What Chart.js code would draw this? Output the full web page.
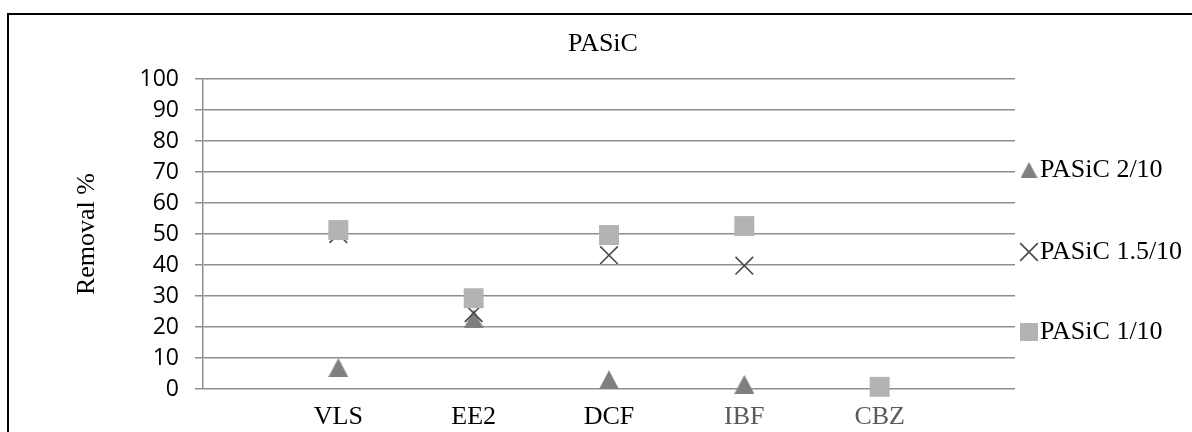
<!DOCTYPE html>
<html>
<head>
<meta charset="utf-8">
<script src="https://cdn.jsdelivr.net/npm/chart.js@4.4.1/dist/chart.umd.min.js"></script>
<style>
  html, body { margin: 0; padding: 0; background: #fff; }
  #wrap { position: relative; width: 1192px; height: 432px; overflow: hidden; }
  #frame { position: absolute; left: 7px; top: 13px; width: 1300px; height: 500px;
           border-left: 2px solid #000; border-top: 2px solid #000; pointer-events: none; }
</style>
</head>
<body>
<div id="wrap">
  <canvas id="c" width="1192" height="432"></canvas>
  <div id="frame"></div>
</div>
<script>
// ---- data ----
const categories = ['VLS', 'EE2', 'DCF', 'IBF', 'CBZ'];
const pasic2_10  = [6.9, 22.6, 3.0, 1.5, null];
const pasic15_10 = [50.0, 24.5, 43.2, 39.8, null];
const pasic1_10  = [51.3, 29.3, 49.7, 52.6, 0.7];
const seriesLabels = ['PASiC 2/10', 'PASiC 1.5/10', 'PASiC 1/10'];
const yMin = 0, yMax = 100, yStep = 10;

// ---- marker images ----
function triangleCanvas(w, h, color) {
  const cv = document.createElement('canvas');
  cv.width = w; cv.height = h;
  const g = cv.getContext('2d');
  g.fillStyle = color;
  g.beginPath();
  g.moveTo(w / 2, 0); g.lineTo(w, h); g.lineTo(0, h); g.closePath();
  g.fill();
  return cv;
}
const TRI_COLOR = '#7f7f7f', SQ_COLOR = '#b3b3b3', X_COLOR = '#4a4a4a';
const triPlot = triangleCanvas(20, 19, TRI_COLOR);
const triLegend = triangleCanvas(17, 16, TRI_COLOR);

const toXY = arr => arr.map((v, i) => ({ x: i + 1, y: v }));

const serif = 'Liberation Serif';
const GRID = '#8e8e8e';
const PAD_LEFT = 14;

const legendPlugin = {
  id: 'sideLegend',
  afterDraw(chart) {
    const ctx = chart.ctx;
    const items = [
      { y: 170, style: triLegend, radius: 9, bw: 0, color: TRI_COLOR },
      { y: 252, style: 'crossRot', radius: 12.5, bw: 1.6, color: X_COLOR },
      { y: 332, style: 'rect', radius: 12.7, bw: 0, color: SQ_COLOR }
    ];
    ctx.save();
    items.forEach((it, i) => {
      ctx.fillStyle = it.color;
      ctx.strokeStyle = it.color;
      ctx.lineWidth = it.bw;
      Chart.helpers.drawPoint(ctx, { pointStyle: it.style, radius: it.radius, borderWidth: it.bw, rotation: 0 }, 1029, it.y);
      ctx.fillStyle = '#000';
      ctx.font = '26px "' + serif + '"';
      ctx.textAlign = 'left';
      ctx.textBaseline = 'middle';
      ctx.fillText(chart.data.datasets[i].label, 1040, it.y);
    });
    ctx.restore();
  }
};

new Chart(document.getElementById('c'), {
  type: 'scatter',
  data: {
    datasets: [
      { label: seriesLabels[0], data: toXY(pasic2_10), pointStyle: triPlot, pointRadius: 10,
        backgroundColor: TRI_COLOR, borderColor: TRI_COLOR, pointBorderWidth: 0, order: 3, clip: false },
      { label: seriesLabels[1], data: toXY(pasic15_10), pointStyle: 'crossRot', pointRadius: 12.5,
        backgroundColor: X_COLOR, borderColor: X_COLOR, pointBorderWidth: 1.6, order: 2, clip: false },
      { label: seriesLabels[2], data: toXY(pasic1_10), pointStyle: 'rect', pointRadius: 14.1,
        backgroundColor: SQ_COLOR, borderColor: SQ_COLOR, pointBorderWidth: 0, order: 1, clip: false }
    ]
  },
  options: {
    responsive: false,
    animation: false,
    events: [],
    layout: { padding: { top: 13, left: PAD_LEFT, right: 0, bottom: 0 } },
    plugins: {
      legend: { display: false },
      tooltip: { enabled: false },
      title: {
        display: true, text: 'PASiC', color: '#000',
        font: { family: serif, size: 26, weight: 'normal' },
        padding: { top: 16, bottom: 19 }
      }
    },
    scales: {
      x: {
        type: 'linear', min: 0, max: categories.length + 1,
        afterBuildTicks: s => { s.ticks = categories.map((_, i) => ({ value: i + 1 })); },
        afterFit: s => { s.height = 43; },
        grid: { display: false, drawTicks: false },
        border: { display: false },
        ticks: {
          autoSkip: false, maxRotation: 0, padding: 13,
          callback: v => categories[v - 1] || '',
          font: { family: serif, size: 26 },
          color: c => (c.index >= 3 ? '#5a5a5a' : '#000')
        }
      },
      y: {
        min: yMin, max: yMax,
        afterFit: s => { s.width = 203 - PAD_LEFT; },
        grid: { color: GRID, lineWidth: 1.5, tickLength: 8, drawTicks: true },
        border: { display: true, color: GRID, width: 1.5 },
        ticks: { stepSize: yStep, padding: 16, color: '#000', font: { family: 'Open Sans', size: 23 } },
        title: {
          display: true, text: 'Removal %', color: '#000',
          font: { family: serif, size: 26, weight: 'normal' },
          padding: { top: 87 - PAD_LEFT - 15.6, bottom: 0 }
        }
      },
      side: {
        type: 'linear', position: 'right', min: yMin, max: yMax,
        afterFit: s => { s.width = 1192 - 1015; },
        grid: { display: false, drawOnChartArea: false, drawTicks: false },
        border: { display: false },
        ticks: { display: false }
      }
    }
  },
  plugins: [legendPlugin]
});
</script>
</body>
</html>
